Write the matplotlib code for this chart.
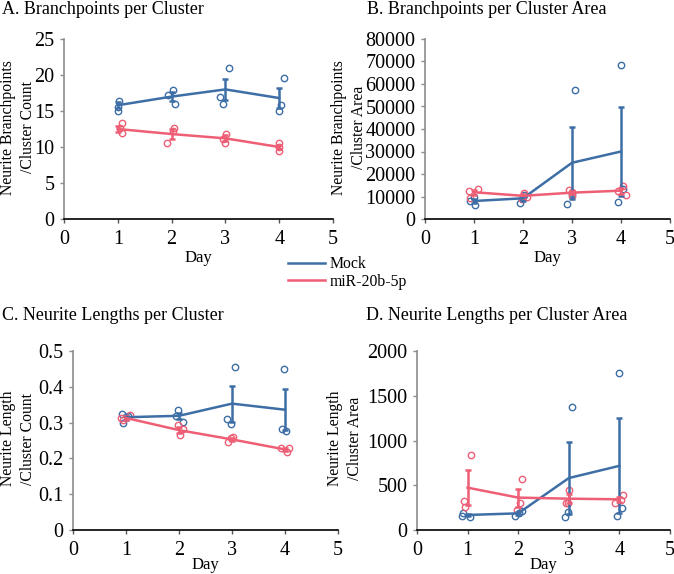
import matplotlib

matplotlib.use("Agg")
import matplotlib.pyplot as plt
import numpy as np

plt.rcParams["font.family"] = ["Liberation Serif", "DejaVu Serif"]

MOCK_COLOR = "#3D6EA6"
MIR_COLOR = "#EE5F76"

days = [1, 2, 3, 4]

# A. Branchpoints per cluster
a_mock_mean = [15.8, 17.0, 18.0, 16.8]
a_mock_err = [0.4, 0.6, 1.5, 1.4]
a_mock_x = [[1.02, 1.01, 1.01], [1.93, 2.02, 2.06], [2.90, 2.96, 3.06], [3.99, 4.04, 4.08]]
a_mock_y = [[16.4, 15.6, 15.0], [17.2, 17.9, 16.0], [16.9, 16.0, 21.0], [15.0, 15.9, 19.6]]
a_mir_mean = [12.5, 11.8, 11.2, 10.0]
a_mir_err = [0.4, 0.7, 0.4, 0.3]
a_mir_x = [[1.07, 1.04, 1.07], [1.92, 2.04, 2.03], [2.96, 3.02, 2.99], [3.99, 3.99, 3.99]]
a_mir_y = [[13.3, 12.6, 12.0], [10.5, 12.7, 12.2], [11.1, 11.8, 10.5], [10.5, 10.0, 9.5]]

# B. Branchpoints per cluster area
b_mock_mean = [8000, 9200, 25000, 30000]
b_mock_err = [700, 1000, 16100, 19600]
b_mock_x = [[0.91, 1.03, 1.00], [1.93, 1.99, 2.02], [2.90, 3.06, 3.00], [3.94, 4.00, 4.04]]
b_mock_y = [[8200, 6200, 9600], [7000, 9900, 10800], [6500, 57200, 11300], [7400, 68600, 13200]]
b_mir_mean = [11900, 10300, 11700, 12600]
b_mir_err = [1200, 900, 800, 1300]
b_mir_x = [[0.90, 1.09, 0.92], [2.02, 2.08, 1.97], [2.93, 3.00, 3.01], [3.94, 4.05, 4.10]]
b_mir_y = [[12400, 13300, 9200], [11700, 9900, 8700], [12900, 11900, 10200], [12400, 14800, 10500]]

# C. Neurite lengths per cluster
c_mock_mean = [0.315, 0.319, 0.353, 0.336]
c_mock_err = [0.007, 0.009, 0.050, 0.057]
c_mock_x = [[0.92, 0.94, 1.03], [1.98, 1.94, 2.07], [2.91, 2.98, 3.06], [3.94, 4.02, 3.99]]
c_mock_y = [[0.324, 0.300, 0.318], [0.334, 0.319, 0.302], [0.310, 0.295, 0.455], [0.281, 0.277, 0.451]]
c_mir_mean = [0.313, 0.279, 0.253, 0.225]
c_mir_err = [0.006, 0.008, 0.004, 0.004]
c_mir_x = [[0.91, 1.07, 0.95], [1.98, 2.02, 2.08], [2.93, 2.99, 3.01], [3.93, 4.03, 4.08]]
c_mir_y = [[0.312, 0.321, 0.307], [0.292, 0.265, 0.281], [0.246, 0.256, 0.259], [0.229, 0.217, 0.229]]

# D. Neurite lengths per cluster area
d_mock_mean = [168, 186, 580, 717]
d_mock_err = [12, 15, 403, 532]
d_mock_x = [[0.91, 1.04, 0.89], [1.94, 2.08, 2.01], [2.92, 3.06, 2.98], [3.96, 4.00, 4.06]]
d_mock_y = [[186, 149, 160], [160, 212, 185], [149, 1377, 205], [153, 1757, 246]]
d_mir_mean = [473, 362, 350, 343]
d_mir_err = [193, 100, 50, 29]
d_mir_x = [[1.07, 0.93, 0.95], [2.08, 2.03, 1.97], [3.00, 2.98, 2.94], [3.92, 4.08, 4.03]]
d_mir_y = [[838, 324, 261], [566, 298, 223], [447, 305, 300], [298, 395, 335]]

FIG_W, FIG_H = 674, 574


def px_axes(fig, left, right, top, bottom):
    return fig.add_axes([left / FIG_W, 1 - bottom / FIG_H, (right - left) / FIG_W, (bottom - top) / FIG_H])


def draw_group(ax, mean, err, xs, ys, color):
    for x_row, y_row in zip(xs, ys):
        ax.plot(x_row, y_row, linestyle="none", marker="o", markersize=4.6,
                markerfacecolor="none", markeredgecolor=color, markeredgewidth=1.0, zorder=3)
    ax.errorbar(days, mean, yerr=err, color=color, linewidth=1.8, elinewidth=1.8,
                capsize=2.5, capthick=1.8, zorder=4)


def style_axes(ax, ymax, ystep, ylabel, ylabel_x, xlabel_y):
    ax.set_xlim(0, 5)
    ax.set_ylim(0, ymax)
    ax.set_xticks(range(6))
    ax.set_yticks(np.arange(0, ymax + ystep / 2, ystep))
    for side in ("top", "right"):
        ax.spines[side].set_visible(False)
    ax.spines["left"].set_color("#8C8C8C")
    ax.spines["left"].set_linewidth(1.2)
    ax.spines["bottom"].set_color("black")
    ax.spines["bottom"].set_linewidth(1.2)
    ax.tick_params(axis="x", direction="out", length=3, width=1, color="#555555", labelsize=14.5, pad=5)
    ax.tick_params(axis="y", direction="out", length=3, width=1, color="#8C8C8C", labelsize=14.5, pad=4)
    ax.set_xlabel("Day", fontsize=12)
    ax.set_ylabel(ylabel, fontsize=11.3, linespacing=1.3)
    ax.yaxis.set_label_coords(ylabel_x, 0.51)
    ax.xaxis.set_label_coords(0.5, xlabel_y)


fig = plt.figure(figsize=(FIG_W / 100, FIG_H / 100), dpi=100)

ax_a = px_axes(fig, 64, 333, 39, 219)
draw_group(ax_a, a_mock_mean, a_mock_err, a_mock_x, a_mock_y, MOCK_COLOR)
draw_group(ax_a, a_mir_mean, a_mir_err, a_mir_x, a_mir_y, MIR_COLOR)
style_axes(ax_a, 25, 5, "Neurite Branchpoints\n/Cluster Count", (36 - 64) / 269, -31 / 180)

ax_b = px_axes(fig, 425, 670, 39, 219)
draw_group(ax_b, b_mock_mean, b_mock_err, b_mock_x, b_mock_y, MOCK_COLOR)
draw_group(ax_b, b_mir_mean, b_mir_err, b_mir_x, b_mir_y, MIR_COLOR)
style_axes(ax_b, 80000, 10000, "Neurite Branchpoints\n/Cluster Area", (367 - 425) / 245, -31 / 180)

ax_c = px_axes(fig, 73, 338, 351, 530)
draw_group(ax_c, c_mock_mean, c_mock_err, c_mock_x, c_mock_y, MOCK_COLOR)
draw_group(ax_c, c_mir_mean, c_mir_err, c_mir_x, c_mir_y, MIR_COLOR)
style_axes(ax_c, 0.5, 0.1, "Neurite Length\n/Cluster Count", (36 - 73) / 265, -27 / 179)
ax_c.set_yticklabels(["0", "0.1", "0.2", "0.3", "0.4", "0.5"])

ax_d = px_axes(fig, 417, 670, 351, 530)
draw_group(ax_d, d_mock_mean, d_mock_err, d_mock_x, d_mock_y, MOCK_COLOR)
draw_group(ax_d, d_mir_mean, d_mir_err, d_mir_x, d_mir_y, MIR_COLOR)
style_axes(ax_d, 2000, 500, "Neurite Length\n/Cluster Area", (363 - 417) / 253, -27 / 179)

title_kw = dict(fontsize=13, ha="left", va="center")
fig.text(2 / FIG_W, 1 - 9 / FIG_H, "A. Branchpoints per Cluster", **title_kw)
fig.text(367 / FIG_W, 1 - 9 / FIG_H, "B. Branchpoints per Cluster Area", **title_kw)
fig.text(2 / FIG_W, 1 - 315 / FIG_H, "C. Neurite Lengths per Cluster", **title_kw)
fig.text(366 / FIG_W, 1 - 315 / FIG_H, "D. Neurite Lengths per Cluster Area", **title_kw)

handles = [plt.Line2D([], [], color=MOCK_COLOR, linewidth=1.8),
           plt.Line2D([], [], color=MIR_COLOR, linewidth=1.8)]
fig.legend(handles, ["Mock", "miR-20b-5p"], loc="center left",
           bbox_to_anchor=(288 / FIG_W, 1 - 273 / FIG_H), frameon=False,
           fontsize=11.3, handlelength=2.36, handletextpad=0.32, labelspacing=0.1,
           borderpad=0, borderaxespad=0)

fig.savefig("out.png", dpi=100)
